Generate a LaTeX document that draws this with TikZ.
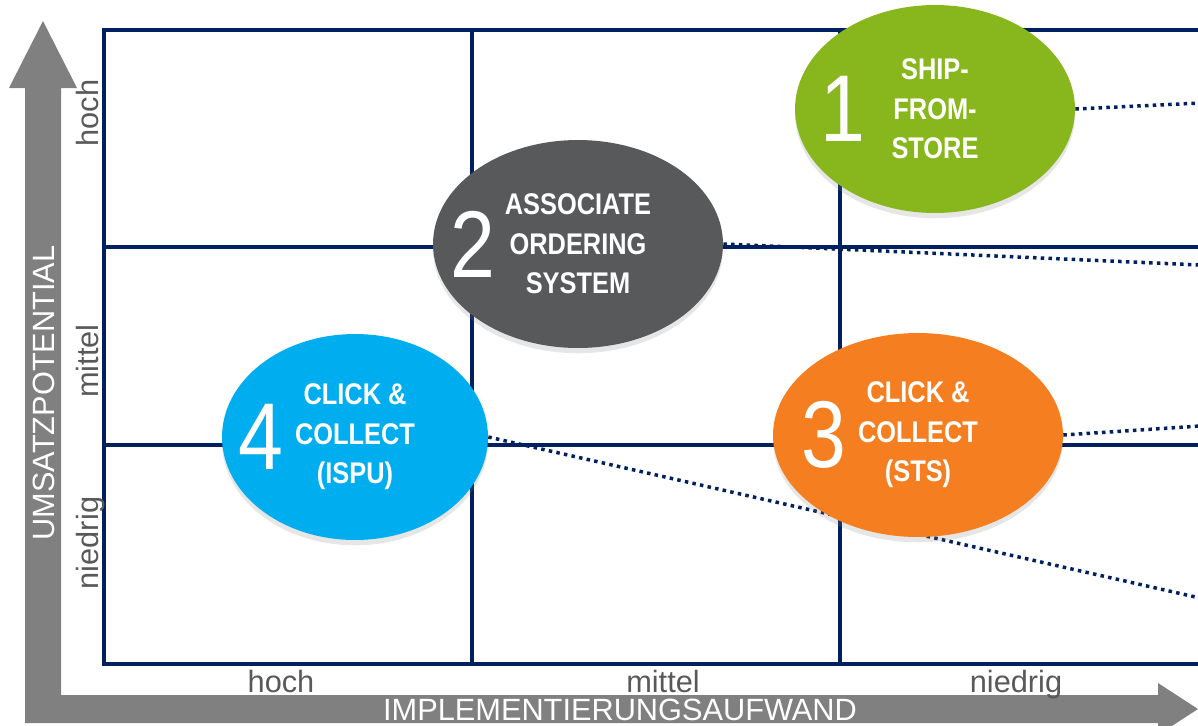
\documentclass[tikz,border=0pt]{standalone}
\usepackage{fontspec}
\setmainfont{Liberation Sans}
\newfontfamily\narrowfont[FakeStretch=0.85]{Liberation Sans}
\usepackage{xcolor}
\usepackage{tikz}
\usetikzlibrary{shapes.geometric, positioning, shadows, backgrounds}

\definecolor{gridblue}{HTML}{002060}
\definecolor{axisgray}{HTML}{808080}
\definecolor{levelgray}{HTML}{595959}
\definecolor{sfsgreen}{HTML}{88B71D}
\definecolor{aosgray}{HTML}{58595B}
\definecolor{stsorange}{HTML}{F47E20}
\definecolor{ispublue}{HTML}{00ADEF}

\begin{document}
\begin{tikzpicture}[x=0.02cm, y=-0.02cm,
  grid/.style={draw=gridblue, line width=0.075cm},
  link/.style={draw=gridblue, line width=0.07cm, dash pattern=on 0.07cm off 0.085cm},
  channel/.style={ellipse, inner sep=0pt, text=white, align=center,
                  font=\narrowfont\bfseries\fontsize{17}{22.5}\selectfont,
                  drop shadow={shadow xshift=0pt, shadow yshift=-3pt, opacity=0.2}},
  num/.style={text=white, inner sep=0pt, font=\narrowfont\fontsize{54}{54}\selectfont},
  level/.style={text=levelgray, anchor=base, font=\fontsize{17.5}{20}\selectfont},
  axislabel/.style={text=white, font=\fontsize{17.5}{20}\selectfont}]
  \useasboundingbox (0,0) rectangle (1198,725);

  % axes
  \fill[axisgray] (25,723) -- (25,88) -- (9,88) -- (43,21) -- (77,88) -- (61,88)
    -- (61,695) -- (1158,695) -- (1158,683) -- (1198,709) -- (1158,735)
    -- (1158,723) -- cycle;
  \node[axislabel, rotate=90] (yaxis) at (44,393) {UMSATZPOTENTIAL};
  \node[axislabel, anchor=base] (xaxis) at (620,720) {IMPLEMENTIERUNGSAUFWAND};

  \node[level, rotate=90] (yhigh) at (98,113) {hoch};
  \node[level, rotate=90] (ymid) at (98,361) {mittel};
  \node[level, rotate=90] (ylow) at (98,543) {niedrig};
  \node[level] (xhigh) at (281,692) {hoch};
  \node[level] (xmid) at (663,692) {mittel};
  \node[level] (xlow) at (1016,692) {niedrig};

  % channels
  \node[channel, fill=sfsgreen, minimum width=5.6cm, minimum height=4.16cm]
    (ship) at (935,109) {SHIP-\\FROM-\\STORE};
  \node[channel, fill=aosgray, minimum width=5.8cm, minimum height=4.16cm]
    (aos) at (578,244) {ASSOCIATE\\ORDERING\\SYSTEM};
  \node[channel, fill=stsorange, minimum width=5.8cm, minimum height=4.08cm]
    (sts) at (918,435) {CLICK \&\\COLLECT\\(STS)};
  \node[channel, fill=ispublue, minimum width=5.32cm, minimum height=4.12cm]
    (ispu) at (355,437) {CLICK \&\\COLLECT\\(ISPU)};

  \node[num, xshift=-1.84cm] (n1) at (ship) {1};
  \node[num, xshift=-2.1cm] (n2) at (aos) {2};
  \node[num, xshift=-1.88cm] (n3) at (sts) {3};
  \node[num, xshift=-1.88cm] (n4) at (ispu) {4};

  \coordinate (o1) at (1200,103);
  \coordinate (o2) at (1200,265);
  \coordinate (o3) at (1200,426);
  \coordinate (o4) at (1200,598);

  \begin{pgfonlayer}{background}
    \draw[grid] (1210,30) -| (104,664) -- (1210,664);
    \draw[grid] (472,30) -- (472,664);
    \draw[grid] (840,30) -- (840,664);
    \draw[grid] (104,247) -- (1210,247);
    \draw[grid] (104,445) -- (1210,445);

    \draw[link] (ship.east) -- (o1);
    \draw[link] (aos.east) -- (o2);
    \draw[link] (sts.east) -- (o3);
    \draw[link] (ispu.east) -- (o4);
  \end{pgfonlayer}
\end{tikzpicture}
\end{document}
